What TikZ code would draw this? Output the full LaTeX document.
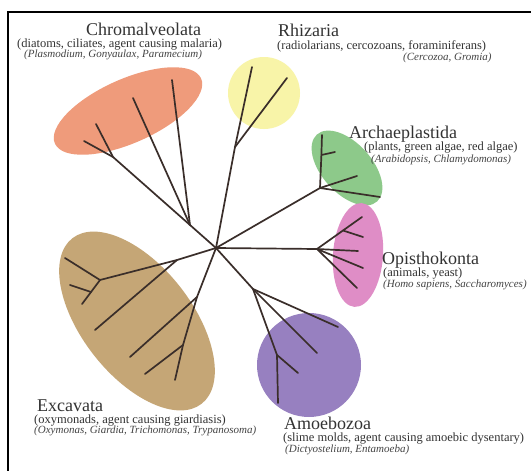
\documentclass[tikz,border=0pt]{standalone}
\usepackage{fontspec}
\setmainfont{Liberation Serif}
\definecolor{linec}{HTML}{3A2E2A}
\definecolor{txt}{HTML}{333333}
\definecolor{txtb}{HTML}{444444}
\definecolor{chromc}{HTML}{EF9B7B}
\definecolor{rhizc}{HTML}{F8F4A8}
\definecolor{archc}{HTML}{8DC98A}
\definecolor{opisc}{HTML}{DF8DC6}
\definecolor{amoec}{HTML}{9780C0}
\definecolor{excac}{HTML}{C5A676}
\begin{document}
\begin{tikzpicture}[x=1pt,y=-1pt,
  branch/.style={draw=linec, line width=1.7pt, line cap=round, line join=round},
  title/.style={anchor=base west, inner sep=0pt, text depth=0pt, text=txt, font=\fontsize{18}{18}\selectfont},
  sub/.style={anchor=base west, inner sep=0pt, text=txt, font=\fontsize{12.5}{12.5}\selectfont},
  spec/.style={anchor=base west, inner sep=0pt, text=txtb, font=\itshape\fontsize{11}{11}\selectfont}]
\useasboundingbox (0,0) rectangle (531,471);
\fill[white] (0,0) rectangle (531,471);
% frame
\draw[line width=1.5pt, black] (8,471) -- (8,12) -- (531,12);
% clade areas
\fill[chromc, rotate around={24:(128,111)}] (128,111) ellipse [x radius=80pt, y radius=32pt];
\fill[rhizc] (264,93) circle [radius=36pt];
\fill[archc, rotate around={-48:(347,168)}] (347,168) ellipse [x radius=45pt, y radius=25pt];
\fill[opisc, rotate around={-4:(358,255)}] (358,255) ellipse [x radius=25pt, y radius=52pt];
\fill[amoec] (309,365) circle [radius=52pt];
\fill[excac, rotate around={-52:(137,321)}] (137,321) ellipse [x radius=105pt, y radius=55pt];
% tree coordinates
\coordinate (C) at (216,248);
% Chromalveolata
\coordinate (J1) at (190,225);
\coordinate (J1a) at (113,157);
\coordinate (L1a1) at (84,141);
\coordinate (L1a2) at (96,124);
\coordinate (L1b) at (133,98);
\coordinate (L1c) at (172,80);
% Rhizaria
\coordinate (J2) at (235,147);
\coordinate (L2a) at (252,67);
\coordinate (L2b) at (287,78);
% Archaeplastida
\coordinate (J3) at (320,188);
\coordinate (J3a) at (321.4,155);
\coordinate (L3a) at (322,135);
\coordinate (L3a1) at (335,152);
\coordinate (L3b) at (357,176);
\coordinate (L3c) at (380,197);
% Opisthokonta
\coordinate (J4) at (317,249);
\coordinate (J4a) at (343,230.5);
\coordinate (L4a) at (362,217);
\coordinate (L4a1) at (363,237);
\coordinate (L4b) at (358,251);
\coordinate (L4c) at (363,268);
\coordinate (L4d) at (357,288);
% Amoebozoa
\coordinate (J5) at (253,289);
\coordinate (L5a) at (338,327);
\coordinate (L5b) at (317,353);
\coordinate (J5a) at (277,355);
\coordinate (L5c) at (278,403);
\coordinate (L5c1) at (298,373);
% Excavata
\coordinate (J6) at (177,260);
\coordinate (J6a) at (100,280);
\coordinate (L6a1) at (65,258);
\coordinate (J6b) at (91,292);
\coordinate (L6a2) at (82,304);
\coordinate (L6b1) at (70,285);
\coordinate (L6c) at (95,330);
\coordinate (J6d) at (197,297);
\coordinate (L6d1) at (130,357);
\coordinate (J6e) at (183,345);
\coordinate (L6e1) at (145,374);
\coordinate (L6e2) at (175,380);
% branches
\draw[branch] (C) -- (J1) -- (J1a) -- (L1a1);
\draw[branch] (J1a) -- (L1a2);
\draw[branch] (J1) -- (L1b);
\draw[branch] (J1) -- (L1c);
\draw[branch] (C) -- (J2) -- (L2a);
\draw[branch] (J2) -- (L2b);
\draw[branch] (C) -- (J3) -- (J3a) -- (L3a);
\draw[branch] (J3a) -- (L3a1);
\draw[branch] (J3) -- (L3b);
\draw[branch] (J3) -- (L3c);
\draw[branch] (C) -- (J4) -- (J4a) -- (L4a);
\draw[branch] (J4a) -- (L4a1);
\draw[branch] (J4) -- (L4b);
\draw[branch] (J4) -- (L4c);
\draw[branch] (J4) -- (L4d);
\draw[branch] (C) -- (J5) -- (L5a);
\draw[branch] (J5) -- (L5b);
\draw[branch] (J5) -- (J5a) -- (L5c);
\draw[branch] (J5a) -- (L5c1);
\draw[branch] (C) -- (J6) -- (J6a) -- (L6a1);
\draw[branch] (J6a) -- (J6b) -- (L6a2);
\draw[branch] (J6b) -- (L6b1);
\draw[branch] (J6) -- (L6c);
\draw[branch] (C) -- (J6d) -- (J6e) -- (L6e2);
\draw[branch] (J6d) -- (L6d1);
\draw[branch] (J6e) -- (L6e1);
% labels
\node[title] (chromT) at (86,35) {Chromalveolata};
\node[sub] (chromS) at (17,47) {(diatoms, ciliates, agent causing malaria)};
\node[spec] (chromE) at (24,57.5) {(Plasmodium, Gonyaulax, Paramecium)};
\node[title] (rhizT) at (278,37) {Rhizaria};
\node[sub] (rhizS) at (277,49.5) {(radiolarians, cercozoans, foraminiferans)};
\node[spec] (rhizE) at (403,60) {(Cercozoa, Gromia)};
\node[title] (archT) at (349,138) {Archaeplastida};
\node[sub] (archS) at (364,150.5) {(plants, green algae, red algae)};
\node[spec] (archE) at (371,162) {(Arabidopsis, Chlamydomonas)};
\node[title] (opisT) at (382,264) {Opisthokonta};
\node[sub] (opisS) at (383,276.5) {(animals, yeast)};
\node[spec] (opisE) at (383,287) {(Homo sapiens, Saccharomyces)};
\node[title] (amoeT) at (284,429) {Amoebozoa};
\node[sub] (amoeS) at (283,441.5) {(slime molds, agent causing amoebic dysentary)};
\node[spec] (amoeE) at (285,452) {(Dictyostelium, Entamoeba)};
\node[title] (excaT) at (37,411) {Excavata};
\node[sub] (excaS) at (34,423) {(oxymonads, agent causing giardiasis)};
\node[spec] (excaE) at (34,433) {(Oxymonas, Giardia, Trichomonas, Trypanosoma)};
\end{tikzpicture}
\end{document}
